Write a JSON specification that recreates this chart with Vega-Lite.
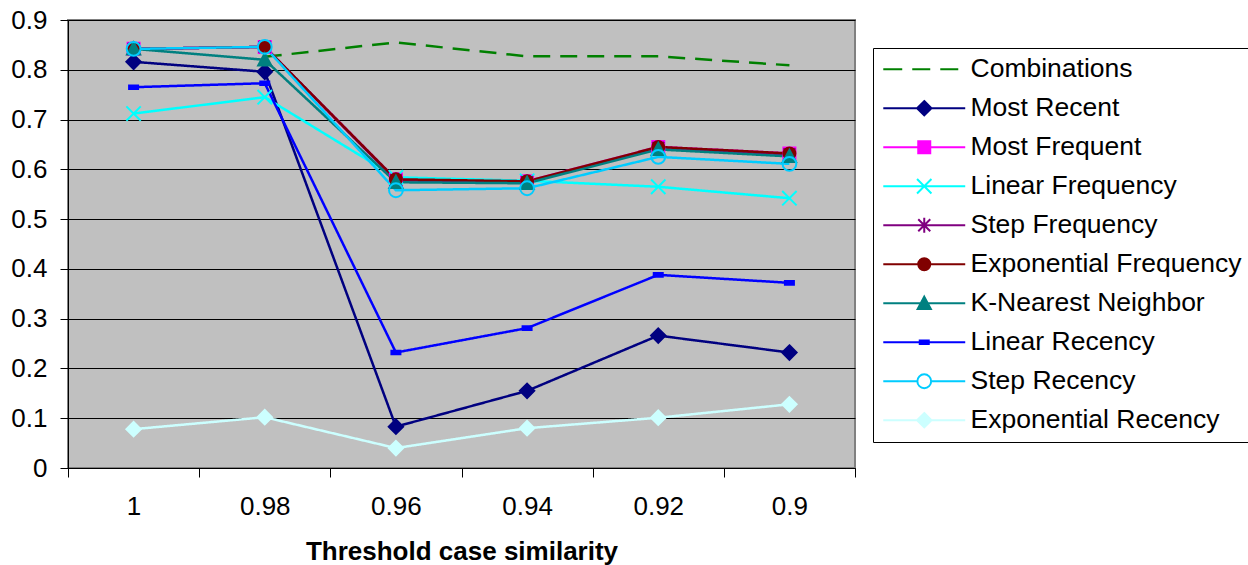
{
  "$schema": "https://vega.github.io/schema/vega-lite/v6.json",
  "autosize": {"type": "none"},
  "padding": {"left": 68, "top": 20, "right": 393, "bottom": 97},
  "width": 787,
  "height": 448,
  "background": "white",
  "config": {
    "font": "Liberation Sans",
    "view": {"fill": "#C0C0C0", "stroke": "#808080", "strokeWidth": 2},
    "axis": {"labelFont": "Liberation Sans", "titleFont": "Liberation Sans", "labelColor": "black", "titleColor": "black", "labelFontSize": 26, "titleFontSize": 26, "domainColor": "black", "tickColor": "black", "domainWidth": 1, "tickWidth": 1},
    "legend": {
      "orient": "none", "legendX": 805, "legendY": 28, "labelFont": "Liberation Sans", "labelFontSize": 26.5, "labelColor": "black", "labelLimit": 500,
      "symbolSize": 144, "symbolStrokeWidth": 2, "symbolOffset": 30, "labelOffset": 33, "rowPadding": 12, "padding": 8,
      "strokeColor": "black", "fillColor": "white", "symbolOpacity": 1
    }
  },
  "data": {"values": [
    {"t": "0.98", "series": "Combinations", "v": 0.826},
    {"t": "0.96", "series": "Combinations", "v": 0.855},
    {"t": "0.94", "series": "Combinations", "v": 0.827},
    {"t": "0.92", "series": "Combinations", "v": 0.827},
    {"t": "0.9", "series": "Combinations", "v": 0.809},
    {"t": "1", "series": "Most Recent", "v": 0.816},
    {"t": "0.98", "series": "Most Recent", "v": 0.796},
    {"t": "0.96", "series": "Most Recent", "v": 0.083},
    {"t": "0.94", "series": "Most Recent", "v": 0.155},
    {"t": "0.92", "series": "Most Recent", "v": 0.266},
    {"t": "0.9", "series": "Most Recent", "v": 0.232},
    {"t": "1", "series": "Most Frequent", "v": 0.842},
    {"t": "0.98", "series": "Most Frequent", "v": 0.846},
    {"t": "0.96", "series": "Most Frequent", "v": 0.580},
    {"t": "0.94", "series": "Most Frequent", "v": 0.576},
    {"t": "0.92", "series": "Most Frequent", "v": 0.645},
    {"t": "0.9", "series": "Most Frequent", "v": 0.632},
    {"t": "1", "series": "Linear Frequency", "v": 0.712},
    {"t": "0.98", "series": "Linear Frequency", "v": 0.745},
    {"t": "0.96", "series": "Linear Frequency", "v": 0.584},
    {"t": "0.94", "series": "Linear Frequency", "v": 0.577},
    {"t": "0.92", "series": "Linear Frequency", "v": 0.565},
    {"t": "0.9", "series": "Linear Frequency", "v": 0.542},
    {"t": "1", "series": "Step Frequency", "v": 0.842},
    {"t": "0.98", "series": "Step Frequency", "v": 0.846},
    {"t": "0.96", "series": "Step Frequency", "v": 0.578},
    {"t": "0.94", "series": "Step Frequency", "v": 0.574},
    {"t": "0.92", "series": "Step Frequency", "v": 0.643},
    {"t": "0.9", "series": "Step Frequency", "v": 0.630},
    {"t": "1", "series": "Exponential Frequency", "v": 0.842},
    {"t": "0.98", "series": "Exponential Frequency", "v": 0.846},
    {"t": "0.96", "series": "Exponential Frequency", "v": 0.580},
    {"t": "0.94", "series": "Exponential Frequency", "v": 0.576},
    {"t": "0.92", "series": "Exponential Frequency", "v": 0.645},
    {"t": "0.9", "series": "Exponential Frequency", "v": 0.632},
    {"t": "1", "series": "K-Nearest Neighbor", "v": 0.842},
    {"t": "0.98", "series": "K-Nearest Neighbor", "v": 0.820},
    {"t": "0.96", "series": "K-Nearest Neighbor", "v": 0.574},
    {"t": "0.94", "series": "K-Nearest Neighbor", "v": 0.572},
    {"t": "0.92", "series": "K-Nearest Neighbor", "v": 0.640},
    {"t": "0.9", "series": "K-Nearest Neighbor", "v": 0.626},
    {"t": "1", "series": "Linear Recency", "v": 0.765},
    {"t": "0.98", "series": "Linear Recency", "v": 0.773},
    {"t": "0.96", "series": "Linear Recency", "v": 0.232},
    {"t": "0.94", "series": "Linear Recency", "v": 0.281},
    {"t": "0.92", "series": "Linear Recency", "v": 0.388},
    {"t": "0.9", "series": "Linear Recency", "v": 0.372},
    {"t": "1", "series": "Step Recency", "v": 0.842},
    {"t": "0.98", "series": "Step Recency", "v": 0.846},
    {"t": "0.96", "series": "Step Recency", "v": 0.558},
    {"t": "0.94", "series": "Step Recency", "v": 0.562},
    {"t": "0.92", "series": "Step Recency", "v": 0.625},
    {"t": "0.9", "series": "Step Recency", "v": 0.611},
    {"t": "1", "series": "Exponential Recency", "v": 0.078},
    {"t": "0.98", "series": "Exponential Recency", "v": 0.102},
    {"t": "0.96", "series": "Exponential Recency", "v": 0.040},
    {"t": "0.94", "series": "Exponential Recency", "v": 0.080},
    {"t": "0.92", "series": "Exponential Recency", "v": 0.101},
    {"t": "0.9", "series": "Exponential Recency", "v": 0.128}
  ]},
  "encoding": {
    "x": {
      "field": "t", "type": "ordinal", "sort": ["1", "0.98", "0.96", "0.94", "0.92", "0.9"],
      "scale": {"type": "band", "paddingInner": 0, "paddingOuter": 0},
      "axis": {"title": "Threshold case similarity", "titleFontWeight": "bold", "titlePadding": 19, "labelAngle": 0, "tickBand": "extent", "tickSize": 9, "labelPadding": 16, "grid": false}
    },
    "y": {
      "field": "v", "type": "quantitative",
      "scale": {"domain": [0, 0.9], "nice": false, "zero": true},
      "axis": {"title": null, "values": [0, 0.1, 0.2, 0.3, 0.4, 0.5, 0.6, 0.7, 0.8, 0.9], "format": "~g", "grid": true, "gridColor": "black", "gridWidth": 1, "gridOpacity": 1, "tickSize": 8, "labelPadding": 13}
    }
  },
  "resolve": {"scale": {"stroke": "independent", "fill": "independent", "shape": "independent"}},
  "layer": [
    {
      "mark": {"type": "line", "strokeWidth": 2.5},
      "encoding": {
        "stroke": {
          "field": "series", "type": "nominal", "legend": null,
          "scale": {
            "domain": ["Combinations", "Most Recent", "Most Frequent", "Linear Frequency", "Step Frequency", "Exponential Frequency", "K-Nearest Neighbor", "Linear Recency", "Step Recency", "Exponential Recency"],
            "range": ["#008000", "#000080", "#FF00FF", "#00FFFF", "#800080", "#800000", "#008080", "#0000FF", "#00CCFF", "#CCFFFF"]
          }
        },
        "strokeDash": {"condition": {"test": "datum.series === 'Combinations'", "value": [17, 10]}, "value": [1, 0]},
        "strokeWidth": {"condition": {"test": "datum.series === 'Combinations'", "value": 3}, "value": 2.5}
      }
    },
    {
      "transform": [{"filter": "datum.series !== 'Combinations'"}],
      "mark": {"type": "point", "filled": true, "size": 144, "strokeWidth": 2, "opacity": 1},
      "encoding": {
        "stroke": {
          "field": "series", "type": "nominal", "legend": null,
          "scale": {
            "domain": ["Combinations", "Most Recent", "Most Frequent", "Linear Frequency", "Step Frequency", "Exponential Frequency", "K-Nearest Neighbor", "Linear Recency", "Step Recency", "Exponential Recency"],
            "range": ["#008000", "#000080", "#FF00FF", "#00FFFF", "#800080", "#800000", "#008080", "#0000FF", "#00CCFF", "#CCFFFF"]
          }
        },
        "fill": {
          "field": "series", "type": "nominal", "legend": null,
          "scale": {
            "domain": ["Combinations", "Most Recent", "Most Frequent", "Linear Frequency", "Step Frequency", "Exponential Frequency", "K-Nearest Neighbor", "Linear Recency", "Step Recency", "Exponential Recency"],
            "range": ["#008000", "#000080", "#FF00FF", "#00FFFF", "#800080", "#800000", "#008080", "#0000FF", "transparent", "#CCFFFF"]
          }
        },
        "shape": {
          "field": "series", "type": "nominal", "legend": null,
          "scale": {
            "domain": ["Combinations", "Most Recent", "Most Frequent", "Linear Frequency", "Step Frequency", "Exponential Frequency", "K-Nearest Neighbor", "Linear Recency", "Step Recency", "Exponential Recency"],
            "range": [
              "M0,0",
              "M0,-1.2L1.2,0L0,1.2L-1.2,0Z",
              "M-1,-1H1V1H-1Z",
              "M-1.2,-1.2L1.2,1.2M-1.2,1.2L1.2,-1.2",
              "M-1,-1L1,1M-1,1L1,-1M0,-1.25V1.25",
              "M1,0C1,0.552 0.552,1 0,1C-0.552,1 -1,0.552 -1,0C-1,-0.552 -0.552,-1 0,-1C0.552,-1 1,-0.552 1,0Z",
              "M0,-1.1L1.1,0.95L-1.1,0.95Z",
              "M-0.75,-0.3H0.75V0.3H-0.75Z",
              "M1.15,0C1.15,0.635 0.635,1.15 0,1.15C-0.635,1.15 -1.15,0.635 -1.15,0C-1.15,-0.635 -0.635,-1.15 0,-1.15C0.635,-1.15 1.15,-0.635 1.15,0Z",
              "M0,-1.2L1.2,0L0,1.2L-1.2,0Z"
            ]
          }
        }
      }
    },
    {
      "transform": [{"filter": "false"}],
      "mark": {"type": "point", "filled": true, "size": 144, "strokeWidth": 2, "opacity": 1},
      "encoding": {
        "stroke": {
          "field": "series", "type": "nominal", "legend": {"title": null},
          "scale": {
            "domain": ["Combinations", "Most Recent", "Most Frequent", "Linear Frequency", "Step Frequency", "Exponential Frequency", "K-Nearest Neighbor", "Linear Recency", "Step Recency", "Exponential Recency"],
            "range": ["#008000", "#000080", "#FF00FF", "#00FFFF", "#800080", "#800000", "#008080", "#0000FF", "#00CCFF", "#CCFFFF"]
          }
        },
        "fill": {
          "field": "series", "type": "nominal", "legend": {"title": null},
          "scale": {
            "domain": ["Combinations", "Most Recent", "Most Frequent", "Linear Frequency", "Step Frequency", "Exponential Frequency", "K-Nearest Neighbor", "Linear Recency", "Step Recency", "Exponential Recency"],
            "range": ["#008000", "#000080", "#FF00FF", "#00FFFF", "#800080", "#800000", "#008080", "#0000FF", "transparent", "#CCFFFF"]
          }
        },
        "shape": {
          "field": "series", "type": "nominal", "legend": {"title": null},
          "scale": {
            "domain": ["Combinations", "Most Recent", "Most Frequent", "Linear Frequency", "Step Frequency", "Exponential Frequency", "K-Nearest Neighbor", "Linear Recency", "Step Recency", "Exponential Recency"],
            "range": [
              "M-6.83,0H-3.67M-2,0H1M2.67,0H5.67",
              "M-6.83,0H6.83M0,-1.2L1.2,0L0,1.2L-1.2,0Z",
              "M-6.83,0H6.83M-1,-1H1V1H-1Z",
              "M-6.83,0H6.83M-1.2,-1.2L1.2,1.2M-1.2,1.2L1.2,-1.2",
              "M-6.83,0H6.83M-1,-1L1,1M-1,1L1,-1M0,-1.25V1.25",
              "M-6.83,0H6.83M1,0C1,0.552 0.552,1 0,1C-0.552,1 -1,0.552 -1,0C-1,-0.552 -0.552,-1 0,-1C0.552,-1 1,-0.552 1,0Z",
              "M-6.83,0H6.83M0,-1.1L1.1,0.95L-1.1,0.95Z",
              "M-6.83,0H6.83M-0.75,-0.3H0.75V0.3H-0.75Z",
              "M-6.83,0H-1.15M1.15,0H6.83M1.15,0C1.15,0.635 0.635,1.15 0,1.15C-0.635,1.15 -1.15,0.635 -1.15,0C-1.15,-0.635 -0.635,-1.15 0,-1.15C0.635,-1.15 1.15,-0.635 1.15,0Z",
              "M-6.83,0H6.83M0,-1.2L1.2,0L0,1.2L-1.2,0Z"
            ]
          }
        }
      }
    }
  ]
}
